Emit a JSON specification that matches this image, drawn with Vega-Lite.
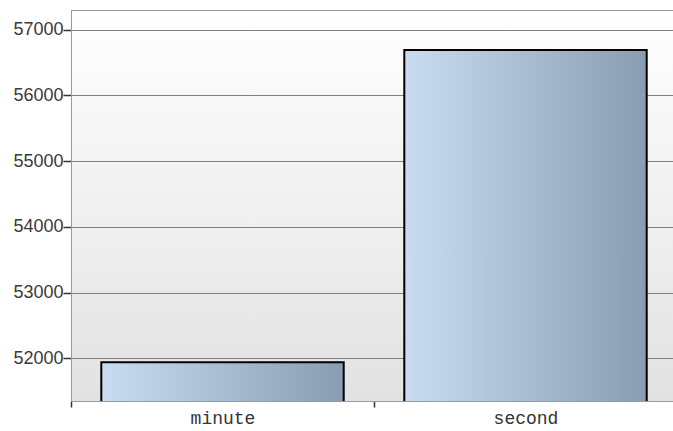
{
  "$schema": "https://vega.github.io/schema/vega-lite/v6.json",
  "autosize": "none",
  "padding": {"left": 71, "top": 10, "right": 0, "bottom": 30},
  "width": 606,
  "height": 391,
  "background": "white",
  "config": {
    "view": {
      "stroke": "#9a9a9a",
      "strokeWidth": 1,
      "fill": {
        "gradient": "linear",
        "x1": 0, "y1": 0, "x2": 0, "y2": 1,
        "stops": [
          {"offset": 0, "color": "#ffffff"},
          {"offset": 1, "color": "#e2e2e2"}
        ]
      }
    }
  },
  "data": {
    "values": [
      {"unit": "minute", "count": 51940},
      {"unit": "second", "count": 56690}
    ]
  },
  "mark": {
    "type": "bar",
    "clip": true,
    "width": {"band": 0.8},
    "stroke": "#000000",
    "strokeWidth": 2,
    "fill": {
      "gradient": "linear",
      "x1": 0, "y1": 0, "x2": 1, "y2": 0,
      "stops": [
        {"offset": 0, "color": "#cadcef"},
        {"offset": 1, "color": "#8a9cb2"}
      ]
    }
  },
  "encoding": {
    "x": {
      "field": "unit",
      "type": "nominal",
      "scale": {"paddingInner": 0, "paddingOuter": 0},
      "axis": {
        "title": null,
        "labelAngle": 0,
        "tickBand": "extent",
        "tickSize": 6,
        "tickColor": "#333333",
        "tickWidth": 1.5,
        "domainColor": "#9a9a9a",
        "labelFont": "Liberation Mono",
        "labelFontSize": 18,
        "labelColor": "#333333",
        "labelPadding": 2,
        "grid": false
      }
    },
    "y": {
      "field": "count",
      "type": "quantitative",
      "scale": {"domain": [51350, 57300], "nice": false, "zero": false},
      "axis": {
        "title": null,
        "values": [52000, 53000, 54000, 55000, 56000, 57000],
        "format": "d",
        "tickSize": 8,
        "tickColor": "#333333",
        "tickWidth": 1.5,
        "domainColor": "#9a9a9a",
        "labelFont": "Liberation Sans",
        "labelFontSize": 18,
        "labelColor": "#3a3a3a",
        "labelPadding": 0,
        "grid": true,
        "gridColor": "#7f7f7f",
        "gridWidth": 1,
        "gridOpacity": 1
      }
    }
  }
}
